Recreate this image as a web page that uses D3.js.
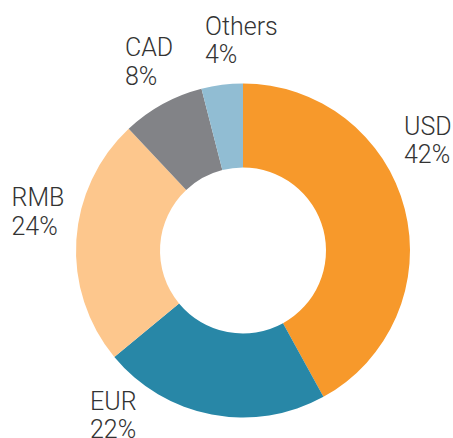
<!DOCTYPE html>
<html>
<head>
<meta charset="utf-8">
<script src="https://cdn.jsdelivr.net/npm/d3@7"></script>
<style>
  html, body { margin: 0; padding: 0; background: #fff; }
  svg { display: block; }
  text { font-family: Roboto, "Liberation Sans", sans-serif; font-weight: 300; fill: #333; }
</style>
</head>
<body>
<script>
// Data
const categories = ["USD", "EUR", "RMB", "CAD", "Others"];
const shares = [42, 22, 24, 8, 4];
const colors = ["#F7992B", "#2887A7", "#FDC78D", "#828387", "#91BDD3"];

// Layout (label anchor positions: left x, first-line baseline)
const W = 453, H = 438;
const cx = 243, cy = 250.5, outerR = 167, innerR = 83;
const labelPos = {
  USD: [404, 134.5],
  EUR: [90, 409.5],
  RMB: [11.5, 206],
  CAD: [125, 56],
  Others: [205, 34.5]
};
const lineGap = 28.5;
const fontSize = 25;

const svg = d3.select("body").append("svg").attr("width", W).attr("height", H);

const data = categories.map((c, i) => ({ cat: c, value: shares[i], color: colors[i] }));

const pie = d3.pie().value(d => d.value).sort(null);
const arc = d3.arc().innerRadius(innerR).outerRadius(outerR);

const g = svg.append("g").attr("transform", `translate(${cx},${cy})`);
g.selectAll("path")
  .data(pie(data))
  .join("path")
  .attr("d", arc)
  .attr("fill", d => d.data.color);

const labels = svg.append("g");
data.forEach(d => {
  const [x, y] = labelPos[d.cat];
  const t = labels.append("text")
    .attr("x", x).attr("y", y)
    .attr("font-size", fontSize);
  t.append("tspan").attr("x", x).attr("y", y).text(d.cat);
  t.append("tspan").attr("x", x).attr("y", y + lineGap).text(d.value + "%");
});
</script>
</body>
</html>
